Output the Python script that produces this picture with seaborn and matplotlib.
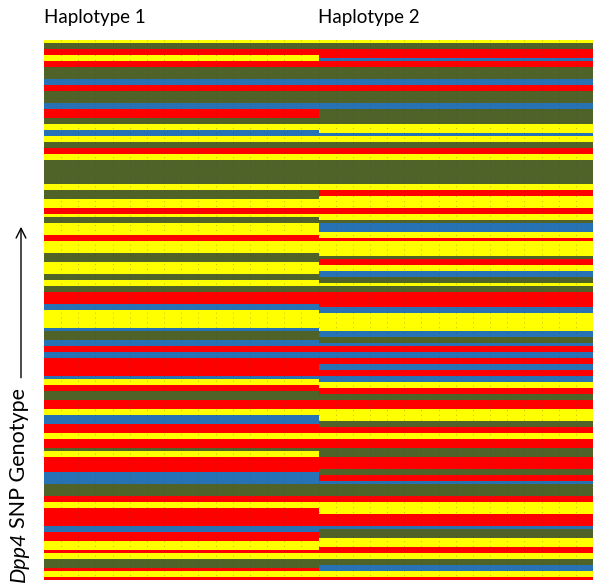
import numpy as np
import pandas as pd
import seaborn as sns
import matplotlib
matplotlib.use("Agg")
import matplotlib.pyplot as plt
from matplotlib.colors import ListedColormap
from matplotlib.patches import FancyArrowPatch

# ---------------- data ----------------
haplotype_names = ["Haplotype 1", "Haplotype 2"]
strains_per_haplotype = 16
allele_codes = ["Y", "R", "B", "G"]
allele_colors = ["#FFFF00", "#FF0000", "#2672B4", "#4F6228"]

# one character per SNP row (top -> bottom)
hap1_snps = ("YGGRRYYRRG" "GGGBBRRGGG" "GBBRRRGGYY" "BBYYGGRRYY" "GGGGGGGGYY"
             "GGGYYYRRYG" "GYYYYRRYYY" "YGGGYYYYGG" "YYGGRRRRBB" "YYYYYYBGGG"
             "BBRRBBRRRR" "RRBYYRRGGG" "RRRYYBBBRR" "RYYRRRGYYR" "RRRRBBBBGG"
             "GGRRYYRRRR" "RRBBRRRYYY" "RYYGGGRYYR")
hap2_snps = ("YGGRRRBRRG" "GGGBBRRGGG" "GBBGGGGGYY" "YBYYGGRRYY" "GGGGGGGGYY"
             "RRYYYYRRYY" "GBBBYYRYYY" "YYGRRYYBBG" "GYGGRRRRRB" "BYYYYYYBBG"
             "GBRRBBRRBB" "RRBBYYRRGG" "RRRYYYYGGR" "RYYRRRGGGR" "RRRGGRRBGG"
             "GGRRYYYYRR" "RRBGGGYYYR" "RYYGGBBYYR")

# ---------------- matrix ----------------
code_index = {c: i for i, c in enumerate(allele_codes)}
rows = []
for a, b in zip(hap1_snps, hap2_snps):
    rows.append([code_index[a]] * strains_per_haplotype + [code_index[b]] * strains_per_haplotype)
cols = [f"{h} s{i+1}" for h in haplotype_names for i in range(strains_per_haplotype)]
df = pd.DataFrame(rows, columns=cols)
n_rows, n_cols = df.shape

W, H = 593, 586
fig = plt.figure(figsize=(W / 100, H / 100), dpi=100)
ax = fig.add_axes([44 / W, (H - 580) / H, (W - 44) / W, 540 / H])

sns.heatmap(df, cmap=ListedColormap(allele_colors), vmin=-0.5, vmax=3.5,
            cbar=False, xticklabels=False, yticklabels=False, ax=ax)
ax.set_xlabel("")
ax.set_ylabel("")
for s in ax.spines.values():
    s.set_visible(False)

# faint dotted column separators
ax.vlines(np.arange(1, n_cols), 0, n_rows, colors="#404040",
          linestyles=(0, (1, 4)), linewidth=0.7, alpha=0.35)

font = "Lato"
# haplotype headers
for i, name in enumerate(haplotype_names):
    x0 = (44 + i * (W - 44) / 2) / W
    fig.text(x0, 1 - 18 / H, name, fontsize=13.5, family=font, ha="left", va="center")

# y label: italic gene symbol + rest, rotated
fig.canvas.draw()
r = fig.canvas.get_renderer()
lab_x = 19 / W
t1 = fig.text(lab_x, 4 / H, "Dpp4", fontsize=15.5, family=font, style="italic",
              rotation=90, ha="center", va="bottom")
ext = t1.get_window_extent(renderer=r)
t2 = fig.text(lab_x, (ext.y1 + 4) / H, "SNP Genotype", fontsize=15.5, family=font,
              rotation=90, ha="center", va="bottom")
ext2 = t2.get_window_extent(renderer=r)

arrow = FancyArrowPatch((21 / W, (ext2.y1 + 7) / H), (21 / W, (H - 224) / H),
                        transform=fig.transFigure, arrowstyle="->,head_length=7,head_width=3.5",
                        color="black", linewidth=1.0, mutation_scale=1)
fig.patches.append(arrow)

fig.savefig("out.png", dpi=100)
